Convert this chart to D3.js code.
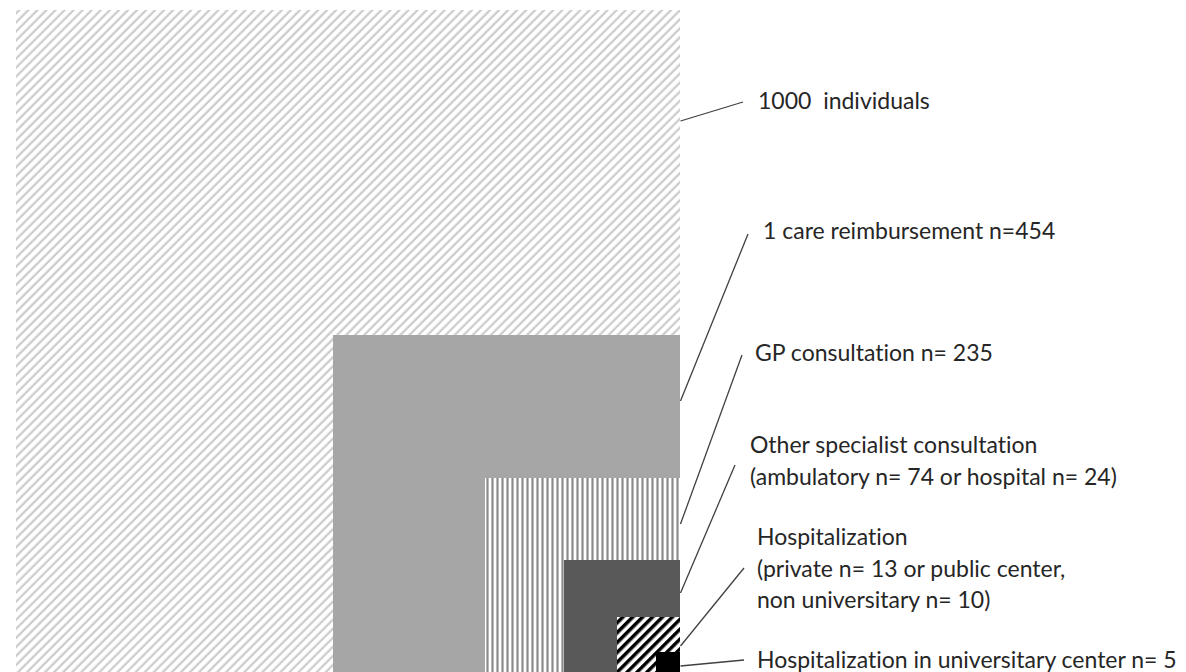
<!DOCTYPE html>
<html>
<head>
<meta charset="utf-8">
<script src="https://cdn.jsdelivr.net/npm/d3@7"></script>
<style>
  html, body { margin: 0; padding: 0; background: #ffffff; }
  svg { display: block; }
  text { font-family: Lato, "Open Sans", sans-serif; fill: #262626; font-variant-ligatures: none; }
</style>
</head>
<body>
<div id="chart"></div>
<script>
// ---- data ----
const categories = [
  "1000 individuals",
  "1 care reimbursement",
  "GP consultation",
  "Other specialist consultation",
  "Hospitalization",
  "Hospitalization in universitary center"
];
const counts = [1000, 454, 235, 98, 23, 5];
const labelLines = [
  ["1000  individuals"],
  ["1 care reimbursement n=454"],
  ["GP consultation n= 235"],
  ["Other specialist consultation", "(ambulatory n= 74 or hospital n= 24)"],
  ["Hospitalization", "(private n= 13 or public center,", "non universitary n= 10)"],
  ["Hospitalization in universitary center n= 5"]
];
const fills = ["url(#pLight)", "#a6a6a6", "url(#pVert)", "#595959", "url(#pHatch)", "#000000"];

// ---- layout ----
const W = 1186, H = 672;
const right = 680, bottom = 674;
const countDomain = [5, 23, 98, 235, 454, 1000];
// nested-box side scales (schematic, non-linear)
const wScale = d3.scaleLinear().domain(countDomain).range([24, 63, 116, 195, 347, 664]);
const hScale = d3.scaleLinear().domain(countDomain).range([22, 57, 114, 196, 339, 664]);

// annotation layout: leader start y on box edge, leader end, label origin
const annot = [
  { sy: 121, ex: 743, ey: 102, tx: 758, ty: 109 },
  { sy: 401, ex: 748, ey: 234, tx: 763, ty: 239 },
  { sy: 524, ex: 742, ey: 355, tx: 755, ty: 361 },
  { sy: 593, ex: 735, ey: 465, tx: 750, ty: 453 },
  { sy: 646, ex: 744, ey: 568, tx: 757, ty: 545 },
  { sy: 666, ex: 744, ey: 660, tx: 757, ty: 668 }
];
const lineGap = 31.5;

const svg = d3.select("#chart").append("svg")
  .attr("width", W).attr("height", H);

const defs = svg.append("defs");
// light diagonal stripes
const p1 = defs.append("pattern").attr("id", "pLight")
  .attr("patternUnits", "userSpaceOnUse").attr("width", 6.4).attr("height", 6.4)
  .attr("patternTransform", "rotate(45)");
p1.append("rect").attr("width", 6.4).attr("height", 6.4).attr("fill", "#ffffff");
p1.append("line").attr("x1", 1.6).attr("x2", 1.6).attr("y1", 0).attr("y2", 6.4)
  .attr("stroke", "#cbcbcb").attr("stroke-width", 2.2);
// vertical stripes
const p2 = defs.append("pattern").attr("id", "pVert")
  .attr("patternUnits", "userSpaceOnUse").attr("width", 5).attr("height", 5);
p2.append("rect").attr("width", 5).attr("height", 5).attr("fill", "#ffffff");
p2.append("line").attr("x1", 2.5).attr("x2", 2.5).attr("y1", 0).attr("y2", 5)
  .attr("stroke", "#8a8a8a").attr("stroke-width", 2.2);
// black/white hatch
const p3 = defs.append("pattern").attr("id", "pHatch")
  .attr("patternUnits", "userSpaceOnUse").attr("width", 7).attr("height", 7)
  .attr("patternTransform", "rotate(45)");
p3.append("rect").attr("width", 7).attr("height", 7).attr("fill", "#ffffff");
p3.append("line").attr("x1", 1.75).attr("x2", 1.75).attr("y1", 0).attr("y2", 7)
  .attr("stroke", "#000000").attr("stroke-width", 3.5);

const data = counts.map((n, i) => ({ n, cat: categories[i], lines: labelLines[i], fill: fills[i], a: annot[i] }));

svg.append("g").selectAll("rect").data(data).join("rect")
  .attr("x", d => right - wScale(d.n))
  .attr("y", d => bottom - hScale(d.n))
  .attr("width", d => wScale(d.n))
  .attr("height", d => hScale(d.n))
  .attr("fill", d => d.fill);

svg.append("g").selectAll("line").data(data).join("line")
  .attr("x1", right + 0.5).attr("y1", d => d.a.sy)
  .attr("x2", d => d.a.ex).attr("y2", d => d.a.ey)
  .attr("stroke", "#404040").attr("stroke-width", 1.3);

const tg = svg.append("g").selectAll("text").data(data).join("text")
  .attr("x", d => d.a.tx).attr("y", d => d.a.ty)
  .attr("font-size", 23)
  .attr("xml:space", "preserve");
tg.selectAll("tspan").data(d => d.lines.map((l, j) => ({ l, j, x: d.a.tx }))).join("tspan")
  .attr("x", t => t.x)
  .attr("dy", t => t.j === 0 ? 0 : lineGap)
  .text(t => t.l);
</script>
</body>
</html>
